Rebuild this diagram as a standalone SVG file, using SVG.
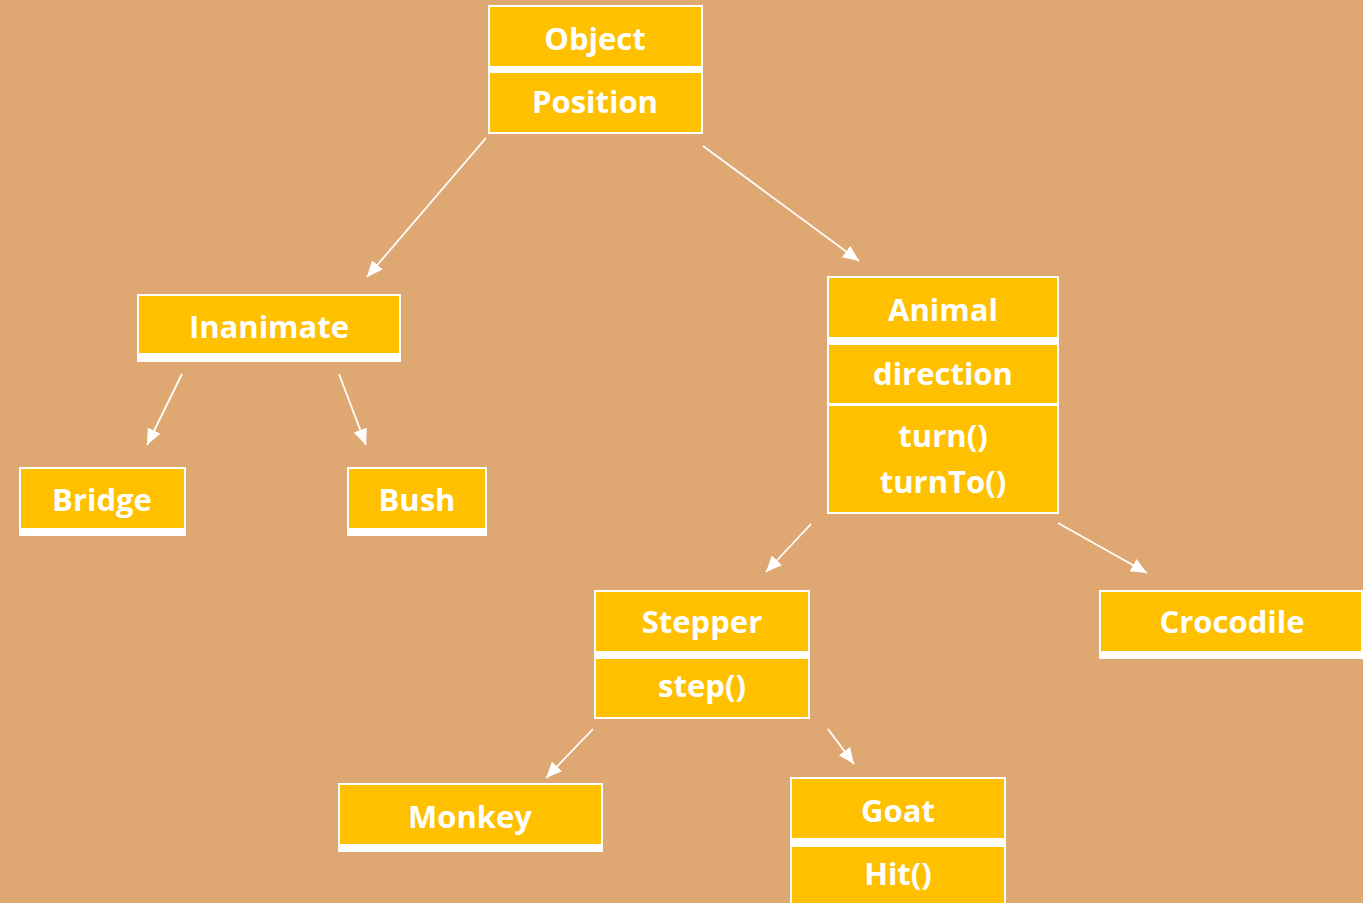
<svg xmlns="http://www.w3.org/2000/svg" width="1363" height="903" viewBox="0 0 1363 903">
  <style>
    .frame { fill: #FFFFFF; }
    .cell { fill: #FFC000; }
    .label { fill: #FFFFFF; font-family: "Open Sans", "Liberation Sans", sans-serif; font-weight: bold; font-size: 31px; text-anchor: middle; }
    .link { stroke: #FFFFFF; stroke-width: 1.8; fill: none; marker-end: url(#head); }
  </style>
  <defs>
    <marker id="head" markerUnits="userSpaceOnUse" markerWidth="17" markerHeight="14" refX="16" refY="7" orient="auto">
      <path d="M0,0 L16,7 L0,14 Z" fill="#FFFFFF"/>
    </marker>
  </defs>

  <rect width="1363" height="903" fill="#DFA873"/>

  <!-- inheritance arrows -->
  <g id="connectors">
    <line class="link" x1="486" y1="138" x2="367" y2="277"/>
    <line class="link" x1="703" y1="146" x2="859" y2="261"/>
    <line class="link" x1="182" y1="374" x2="147" y2="445"/>
    <line class="link" x1="339" y1="374" x2="366" y2="445"/>
    <line class="link" x1="811" y1="524" x2="766" y2="572"/>
    <line class="link" x1="1058" y1="523" x2="1147" y2="573"/>
    <line class="link" x1="593" y1="729" x2="546" y2="778"/>
    <line class="link" x1="828" y1="729" x2="854" y2="764"/>
  </g>

  <g id="object">
    <rect class="frame" x="488" y="5" width="215" height="129"/>
    <rect class="cell" x="490" y="7" width="211" height="59"/>
    <rect class="cell" x="490" y="73" width="211" height="59"/>
    <text class="label" x="595" y="50">Object</text>
    <text class="label" x="595" y="113">Position</text>
  </g>

  <g id="inanimate">
    <rect class="frame" x="137" y="294" width="264" height="68"/>
    <rect class="cell" x="139" y="296" width="260" height="57"/>
    <text class="label" x="269" y="338">Inanimate</text>
  </g>

  <g id="bridge">
    <rect class="frame" x="19" y="467" width="167" height="69"/>
    <rect class="cell" x="21" y="469" width="163" height="59"/>
    <text class="label" x="102" y="511">Bridge</text>
  </g>

  <g id="bush">
    <rect class="frame" x="347" y="467" width="140" height="69"/>
    <rect class="cell" x="349" y="469" width="136" height="59"/>
    <text class="label" x="417" y="511">Bush</text>
  </g>

  <g id="animal">
    <rect class="frame" x="827" y="276" width="232" height="238"/>
    <rect class="cell" x="829" y="278" width="228" height="59"/>
    <rect class="cell" x="829" y="345" width="228" height="58"/>
    <rect class="cell" x="829" y="406" width="228" height="106"/>
    <text class="label" x="943" y="321">Animal</text>
    <text class="label" x="943" y="385">direction</text>
    <text class="label" x="943" y="447">turn()</text>
    <text class="label" x="943" y="493">turnTo()</text>
  </g>

  <g id="stepper">
    <rect class="frame" x="594" y="590" width="216" height="129"/>
    <rect class="cell" x="596" y="592" width="212" height="59"/>
    <rect class="cell" x="596" y="659" width="212" height="58"/>
    <text class="label" x="702" y="633">Stepper</text>
    <text class="label" x="702" y="697">step()</text>
  </g>

  <g id="crocodile">
    <rect class="frame" x="1099" y="590" width="264" height="69"/>
    <rect class="cell" x="1101" y="592" width="260" height="59"/>
    <text class="label" x="1232" y="633">Crocodile</text>
  </g>

  <g id="monkey">
    <rect class="frame" x="338" y="783" width="265" height="69"/>
    <rect class="cell" x="340" y="785" width="261" height="59"/>
    <text class="label" x="470" y="828">Monkey</text>
  </g>

  <g id="goat">
    <rect class="frame" x="790" y="777" width="216" height="130"/>
    <rect class="cell" x="792" y="779" width="212" height="59"/>
    <rect class="cell" x="792" y="847" width="212" height="60"/>
    <text class="label" x="898" y="822">Goat</text>
    <text class="label" x="898" y="885">Hit()</text>
  </g>
</svg>
